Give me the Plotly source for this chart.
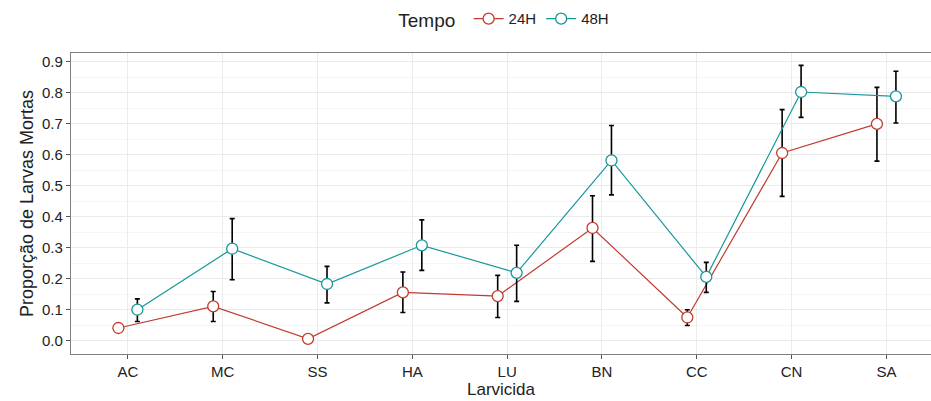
import plotly.graph_objects as go

# Larvicide categories along the x axis
larvicida = ["AC", "MC", "SS", "HA", "LU", "BN", "CC", "CN", "SA"]

# Mean proportion of dead larvae and error limits (upper / lower) per exposure time
prop_24h = [0.041, 0.111, 0.006, 0.156, 0.144, 0.364, 0.075, 0.606, 0.700]
upper_24h = [0.041, 0.159, 0.006, 0.222, 0.211, 0.468, 0.100, 0.746, 0.818]
lower_24h = [0.041, 0.062, 0.006, 0.091, 0.075, 0.256, 0.049, 0.466, 0.580]

prop_48h = [0.100, 0.297, 0.183, 0.308, 0.219, 0.582, 0.206, 0.803, 0.789]
upper_48h = [0.135, 0.394, 0.240, 0.390, 0.308, 0.695, 0.253, 0.889, 0.870]
lower_48h = [0.062, 0.197, 0.122, 0.227, 0.127, 0.471, 0.156, 0.721, 0.703]

y_ticks = [0.0, 0.1, 0.2, 0.3, 0.4, 0.5, 0.6, 0.7, 0.8, 0.9]

series = [
    ("24H", prop_24h, upper_24h, lower_24h, "#C23B2E", -0.1),
    ("48H", prop_48h, upper_48h, lower_48h, "#17979B", 0.1),
]

fig = go.Figure()
for name, vals, up, lo, color, dodge in series:
    xpos = [i + dodge for i in range(len(larvicida))]
    fig.add_trace(go.Scatter(
        x=xpos, y=vals, name=name, mode="lines+markers",
        line=dict(color=color, width=1.2),
        marker=dict(size=11, color="white", line=dict(color=color, width=1.3)),
        error_y=dict(
            type="data", symmetric=False,
            array=[u - v for u, v in zip(up, vals)],
            arrayminus=[v - l for v, l in zip(vals, lo)],
            color="black", thickness=1.6, width=2.5,
        ),
    ))

grid = "#EBEBEB"
fig.update_layout(
    width=931, height=401,
    margin=dict(l=71, r=0, t=53, b=47),
    paper_bgcolor="white", plot_bgcolor="white",
    font=dict(family="Liberation Sans, Arial, sans-serif", color="#222222", size=15),
    legend=dict(
        orientation="h", x=0.505, xanchor="center", y=1.11, yanchor="middle",
        bgcolor="rgba(0,0,0,0)",
        title=dict(text="Tempo ", font=dict(size=19, color="#222222")),
        font=dict(size=15, color="#222222"),
        itemwidth=30, tracegroupgap=0,
    ),
    xaxis=dict(
        range=[-0.6, 8.47],
        tickmode="array", tickvals=list(range(len(larvicida))), ticktext=larvicida,
        showgrid=True, gridcolor=grid, gridwidth=1.2,
        ticks="outside", ticklen=4, tickcolor="#555555",
        showline=True, linecolor="#7F7F7F", linewidth=1.2, mirror=True,
        zeroline=False,
        title=dict(text="Larvicida", font=dict(size=17), standoff=3),
        tickfont=dict(size=15, color="#222222"),
    ),
    yaxis=dict(
        range=[-0.043, 0.929],
        tickmode="array", tickvals=y_ticks, ticktext=[f"{t:.1f}" for t in y_ticks],
        showgrid=True, gridcolor=grid, gridwidth=1.2,
        minor=dict(dtick=0.05, tick0=0.05, showgrid=True, gridcolor="#F5F5F5", gridwidth=0.8),
        ticks="outside", ticklen=4, tickcolor="#555555",
        showline=True, linecolor="#7F7F7F", linewidth=1.2, mirror=True,
        zeroline=False,
        title=dict(text="Proporção de Larvas Mortas", font=dict(size=18), standoff=3),
        tickfont=dict(size=15, color="#222222"),
    ),
)

fig.write_html("out.html")
